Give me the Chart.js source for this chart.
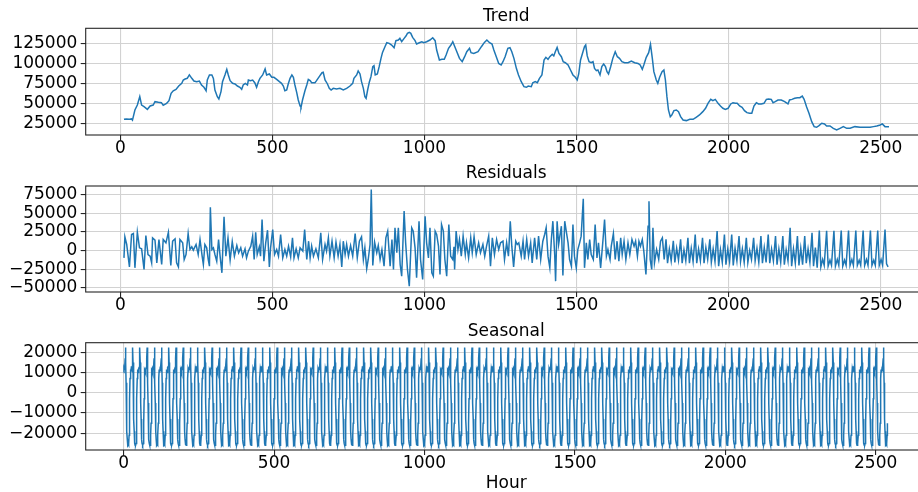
<!DOCTYPE html>
<html><head><meta charset="utf-8">
<script src="https://cdn.jsdelivr.net/npm/chart.js@4/dist/chart.umd.min.js"></script>
<style>
html,body{margin:0;padding:0;background:#fff;overflow:hidden;width:918px;height:492px;}
.p{position:absolute;left:0;width:940px;}
</style></head><body>
<div class="p" style="top:0;height:160px"><canvas id="c1"></canvas></div>
<div class="p" style="top:160px;height:157px"><canvas id="c2"></canvas></div>
<div class="p" style="top:317px;height:175px"><canvas id="c3"></canvas></div>
<script>
// ---------- data ----------
const trendHours = [12,20,30,37,40,48,56,64,70,78,89,98,108,114,125,135,141,152,160,167,174,183,192,202,207,213,220,227,235,242,251,260,267,275,282,286,293,301,306,311,319,324,331,336,344,350,355,361,369,377,385,393,399,404,411,418,421,428,435,442,448,454,459,468,476,481,490,498,505,514,523,530,536,541,547,552,558,564,569,574,580,585,591,594,599,607,613,618,624,629,640,645,654,663,667,673,681,687,693,700,711,722,733,744,755,764,768,777,782,788,793,799,804,808,813,819,824,830,834,838,845,851,857,862,870,876,884,892,900,906,914,919,925,933,939,944,950,955,961,969,974,983,991,998,1007,1018,1027,1035,1040,1049,1057,1065,1071,1079,1087,1093,1104,1115,1124,1132,1139,1148,1153,1162,1176,1187,1197,1205,1214,1222,1228,1236,1244,1252,1258,1265,1274,1281,1287,1294,1302,1309,1318,1327,1335,1341,1351,1356,1364,1371,1378,1386,1393,1399,1406,1412,1420,1425,1430,1436,1442,1450,1456,1463,1472,1480,1488,1496,1502,1507,1513,1521,1526,1530,1535,1541,1548,1554,1559,1565,1570,1577,1583,1589,1595,1600,1605,1612,1619,1627,1634,1641,1649,1658,1669,1680,1691,1702,1709,1716,1721,1729,1737,1743,1749,1754,1762,1767,1773,1781,1787,1792,1797,1802,1808,1813,1820,1828,1835,1842,1850,1861,1872,1883,1893,1904,1915,1924,1932,1941,1948,1956,1965,1973,1981,1989,1998,2007,2014,2022,2028,2036,2044,2052,2060,2069,2076,2083,2091,2098,2107,2116,2124,2131,2140,2146,2153,2162,2173,2184,2195,2200,2208,2217,2226,2234,2242,2248,2256,2264,2273,2281,2289,2297,2306,2315,2322,2333,2344,2355,2366,2377,2388,2399,2415,2432,2448,2465,2476,2487,2498,2505,2514,2527];
const trendValues = [30000,30500,30000,30500,29000,41800,48000,58600,48000,46000,42600,46800,48000,52300,51500,51000,47700,50000,53600,62800,66000,67800,72000,75400,79600,80900,81700,86000,81700,78300,77500,78300,73300,70400,66000,79600,86000,86000,81700,67000,58600,55600,65000,77500,86000,93000,86000,78800,75400,74600,72000,70400,67800,73300,75400,73300,79600,78800,79600,76200,70400,77500,81700,86000,93500,86000,87200,83000,83000,80400,77500,75400,72000,66000,67000,74600,81700,86000,83000,73300,63600,54400,46800,45100,54400,66000,73300,80400,78800,76200,76200,78800,83800,88800,89300,79600,74600,69100,67000,69100,68300,69100,67000,69100,72000,75400,81700,86000,91000,87200,77500,69100,58600,56500,67000,77500,83800,96400,97700,86000,87200,96400,106900,114400,121600,126600,125800,123700,120300,129200,130000,132100,127900,132100,135000,138400,139700,138400,133400,129200,125000,126600,127900,126600,127900,130000,132900,129200,117400,104800,105700,105700,111100,119500,123700,127900,117400,106900,102700,109000,115300,119500,114000,113200,115300,121600,127000,130000,126600,125000,117400,109000,100500,98500,102700,109000,119500,120300,115300,106900,94300,86000,77500,71200,70400,72000,71200,76200,77500,76200,81700,86000,104800,108200,105700,109000,112000,110000,115300,120700,113200,109000,102700,101400,98500,92200,86000,83000,79600,87200,104800,115300,121600,123700,110000,102700,101400,102700,94300,91400,92200,86000,96400,99700,96400,90100,87200,96400,106900,115300,109000,106900,102700,101400,101400,103500,101400,100500,98500,93000,98500,108200,114000,124500,106900,90100,79600,75400,83000,90100,92200,79600,58600,41800,33400,35500,41000,41800,39700,33400,29200,28400,30000,30000,32600,35500,39700,43900,50200,55200,53600,55200,50200,46800,43900,42600,43900,49400,51000,50200,50200,46800,45100,41000,38400,37600,37600,46800,51000,49400,49400,50200,55200,55700,55200,51000,52300,54400,54400,52300,49400,54400,55200,56500,57300,57300,59400,55200,46000,37600,27100,20800,20000,22000,25000,24200,21600,21600,18700,16600,18700,20800,18700,18700,20800,20000,20000,20000,20800,21600,22900,24200,20800,20800];

const residualHours = [12,15,21,30,37,43,48,56,63,70,78,84,91,98,103,106,114,120,127,136,141,150,158,166,172,180,185,191,196,205,210,216,223,229,235,240,249,256,262,269,273,278,284,289,293,296,301,306,311,317,323,328,334,341,347,354,361,368,375,383,389,396,402,410,415,421,429,435,440,445,450,457,461,466,472,478,484,490,494,501,507,514,520,527,534,541,547,553,560,566,571,578,585,591,600,606,613,619,624,629,635,643,651,659,665,673,678,684,689,696,703,709,716,722,728,733,739,744,750,757,764,772,779,786,793,799,804,810,815,821,825,830,836,843,848,854,860,867,873,879,887,893,898,903,909,914,920,925,933,938,944,950,958,963,969,974,982,987,994,1002,1007,1013,1018,1024,1029,1035,1040,1046,1051,1056,1062,1067,1073,1080,1086,1093,1097,1099,1104,1110,1115,1121,1127,1134,1138,1145,1152,1157,1163,1170,1178,1184,1192,1198,1204,1211,1217,1223,1230,1237,1244,1250,1258,1263,1270,1276,1282,1287,1293,1300,1305,1310,1318,1324,1329,1336,1342,1349,1354,1362,1369,1375,1382,1389,1395,1400,1406,1412,1417,1422,1428,1431,1436,1441,1445,1450,1455,1461,1466,1472,1477,1483,1488,1493,1499,1504,1510,1515,1522,1526,1532,1537,1543,1548,1555,1561,1567,1572,1579,1586,1592,1598,1603,1610,1614,1621,1627,1633,1639,1645,1650,1656,1662,1669,1675,1682,1689,1694,1700,1705,1710,1716,1721,1728,1735,1738,1742,1747,1751,1756,1763,1770,1776,1782,1788,
1794,1799,1805,1811,1818,1823,1829,1835,1842,1847,1853,1859,1866,1871,1877,1883,1890,1895,1901,1907,1914,1919,1925,1931,1938,1943,1949,1955,1962,1967,1973,1979,1986,1991,1997,2003,2010,2015,2021,2027,2034,2039,2045,2051,2058,2063,2069,2075,2082,2087,2093,2099,2106,2111,2117,2123,2130,2135,2141,2147,2154,2159,2165,2171,2178,2183,2189,2195,2202,2207,2213,2219,2226,2231,2237,2243,2250,2255,2261,2267,2274,2279,2285,2291,
2298,2303,2309,2314,2322,2327,2333,2338,2346,2351,2357,2362,2370,2375,2381,2386,2394,2399,2405,2410,2418,2423,2429,2434,2442,2447,2453,2458,2466,2471,2477,2482,2490,2495,2501,2506,2514,2519,2524];
const residualValues = [-9900,18400,8100,-22000,21500,22800,-23300,24600,3600,2200,-25500,20200,-5400,-7600,-16600,17000,13900,-16600,14800,-18800,14800,10300,24600,-20200,12500,15700,-16600,-22000,14800,10300,-12100,-5400,22800,1300,4900,400,8100,-5400,14800,-7600,-18800,8100,3600,-12100,-21100,58200,1300,3600,-5400,-14300,14800,-7600,-30000,45200,-7600,17000,-13000,12100,-7600,6700,-3100,3600,-7600,2200,-9900,-900,5800,19300,-12100,24600,-5400,4900,-7600,41700,-14300,10300,27300,-22000,3600,28200,-5400,1300,-7600,21500,-9900,1300,-7600,5800,-8500,17000,-9900,2200,-9900,3600,-900,28200,-12100,12500,-9900,5800,-7600,2200,-9900,23700,-12100,8100,-900,17000,-7600,12500,-9900,11200,-7600,8100,-22000,12500,-5400,8100,-7600,6700,-7600,22800,-9900,12500,18400,-12100,3600,-24600,-12100,8100,82000,-20200,11200,-3100,6700,-12100,1300,-21100,17000,26000,-21100,14800,-25500,30500,-3100,30500,-18800,-34500,52900,10300,-25500,-47900,30500,26000,3600,-36700,39400,-12100,-39000,46100,10300,-9900,30500,-30000,-34500,26000,21500,5800,-32300,34900,26000,-12100,-34500,34900,-7600,-12100,4900,-25500,26000,1300,14800,-7600,19300,-5400,10300,-9900,17000,-3100,18400,-5400,10300,-3100,8100,-7600,5800,19300,-21100,17000,-5400,14800,1300,10300,12500,-12100,10300,-7600,39400,5800,-22000,12500,8100,10300,-7600,12500,-12100,14800,-7600,10300,-16600,17000,-12100,19300,-12100,12500,21500,30500,-7600,-23300,14800,39400,-5400,-41200,39400,8100,19300,32700,-33600,39400,26000,10300,-12100,-21100,34900,-7600,-23300,1300,10300,19300,69400,-23300,10300,-12100,14800,-5400,-12100,34900,-9900,10300,-23300,10300,41700,-7600,1300,-12100,5800,22800,-12100,12500,-14300,17000,-5400,12500,-12100,10300,-5400,14800,5800,12500,-7600,12500,5800,14800,-900,-32300,32700,66300,-12100,-25500,30500,-16600,1300,-12100,12500,17000,-12000,
15000,-17000,2000,-14000,13000,-16000,3000,-13000,15000,-17000,1000,-14000,17000,-17000,3000,-15000,21500,-17000,2000,-14000,17000,-17000,4000,-12000,15000,-16000,2000,-15000,26000,-21000,1000,-16000,21500,-19000,2000,-15000,21500,-20000,3000,-14000,19300,-15000,2000,-16000,17000,-16000,0,-12000,17000,-14000,3000,-16000,19300,-17000,4000,-16000,21500,-17000,2000,-14000,19300,-19000,2000,-16000,19300,-19000,1000,-14000,30500,-21000,2000,-17000,19300,-20000,3000,-19000,19300,-17000,2000,-16000,23700,-21000,4000,-23000,
26900,-22000,-12000,-20000,26500,-21000,-13000,-20000,26500,-21000,-12000,-20000,26900,-21000,-13000,-20000,26900,-20000,-12000,-20000,26900,-20000,-13000,-20000,26900,-20000,-12000,-20000,26900,-20000,-13000,-20000,26900,-20000,-12000,-20000,28200,-18000,-22000];

// one day (24 hours) of the seasonal component, repeated over the whole series
const seasonalDay = [10000,12000,11500,12500,13000,17000,22400,15000,5000,-5000,-13000,-19000,-23000,-25000,-25900,-25500,-25900,-25000,-21000,-15000,-3000,7000,11500,11000];
const seasonalCount = 2540;

const xTickValues = [0,500,1000,1500,2000,2500];
const trendTickValues = [25000,50000,75000,100000,125000];
const residualTickValues = [-50000,-25000,0,25000,50000,75000];
const seasonalTickValues = [-20000,-10000,0,10000,20000];

// ---------- drawing ----------
const FONT = {family: 'DejaVu Sans', size: 17, lineHeight: 1.0, weight: 'normal'};
const TITLE_FONT = {family: 'DejaVu Sans', size: 17, lineHeight: 1.2, weight: 'normal'};
const LINE = '#1f77b4';
const GRID = '#d2d2d2';
const fmt = v => (v < 0 ? '\u2212' + Math.abs(v) : String(v));

const frame = {
  id: 'frame',
  afterDatasetsDraw(chart) {
    const a = chart.chartArea, c = chart.ctx;
    c.save();
    c.strokeStyle = '#262626';
    c.lineWidth = 1.1;
    c.strokeRect(a.left, a.top, a.right - a.left, a.bottom - a.top);
    c.restore();
  }
};

function makeChart(id, cfg) {
  const pts = cfg.xs.map((x, i) => ({x: x, y: cfg.ys[i]}));
  return new Chart(document.getElementById(id), {
    type: 'line',
    data: {datasets: [{data: pts, borderColor: LINE, borderWidth: 1.5, pointRadius: 0, tension: 0, fill: false}]},
    options: {
      responsive: true, maintainAspectRatio: false, animation: false,
      layout: {padding: {left: 0, right: 940 - 926.7, top: 0, bottom: 0}},
      plugins: {
        legend: {display: false}, tooltip: {enabled: false},
        title: {display: true, fullSize: false, text: cfg.title, color: '#000', font: TITLE_FONT, padding: {top: cfg.pt, bottom: cfg.pb}}
      },
      scales: {
        x: {
          type: 'linear', min: cfg.xmin, max: cfg.xmax,
          afterFit: s => { s.height = cfg.xh; },
          afterBuildTicks: s => { s.ticks = xTickValues.map(v => ({value: v})); },
          ticks: {font: FONT, color: '#000', padding: 0, maxRotation: 0, autoSkip: false, callback: v => fmt(v)},
          grid: {color: GRID, lineWidth: 1.1, tickLength: 5, tickColor: '#262626', tickWidth: 1.1},
          border: {display: false},
          title: cfg.xtitle ? {display: true, text: cfg.xtitle, color: '#000', font: FONT, padding: {top: 0, bottom: 0}} : {display: false}
        },
        y: {
          type: 'linear', min: cfg.ymin, max: cfg.ymax,
          afterFit: s => { s.width = 85.7; },
          afterBuildTicks: s => { s.ticks = cfg.yticks.map(v => ({value: v})); },
          ticks: {font: FONT, color: '#000', padding: 3.4, autoSkip: false, callback: v => fmt(v)},
          grid: {color: GRID, lineWidth: 1.1, tickLength: 5, tickColor: '#262626', tickWidth: 1.1},
          border: {display: false}
        }
      }
    },
    plugins: [frame]
  });
}

const seasonalHours = [], seasonalValues = [];
for (let h = 0; h < seasonalCount; h++) { seasonalHours.push(h); seasonalValues.push(seasonalDay[h % 24]); }

makeChart('c1', {title: 'Trend', xs: trendHours, ys: trendValues, pt: 6.8, pb: 1.1, xh: 25,
  xmin: -113.8, xmax: 2651, ymin: 10250, ymax: 144800, yticks: trendTickValues});
makeChart('c2', {title: 'Residuals', xs: residualHours, ys: residualValues, pt: 3.8, pb: 1.8, xh: 25,
  xmin: -113.8, xmax: 2651, ymin: -55800, ymax: 86700, yticks: residualTickValues});
makeChart('c3', {title: 'Seasonal', xs: seasonalHours, ys: seasonalValues, pt: 4.3, pb: 1.0, xh: 42,
  xmin: -126.3, xmax: 2669.6, ymin: -28250, ymax: 24740, yticks: seasonalTickValues, xtitle: 'Hour'});
</script>
</body></html>
